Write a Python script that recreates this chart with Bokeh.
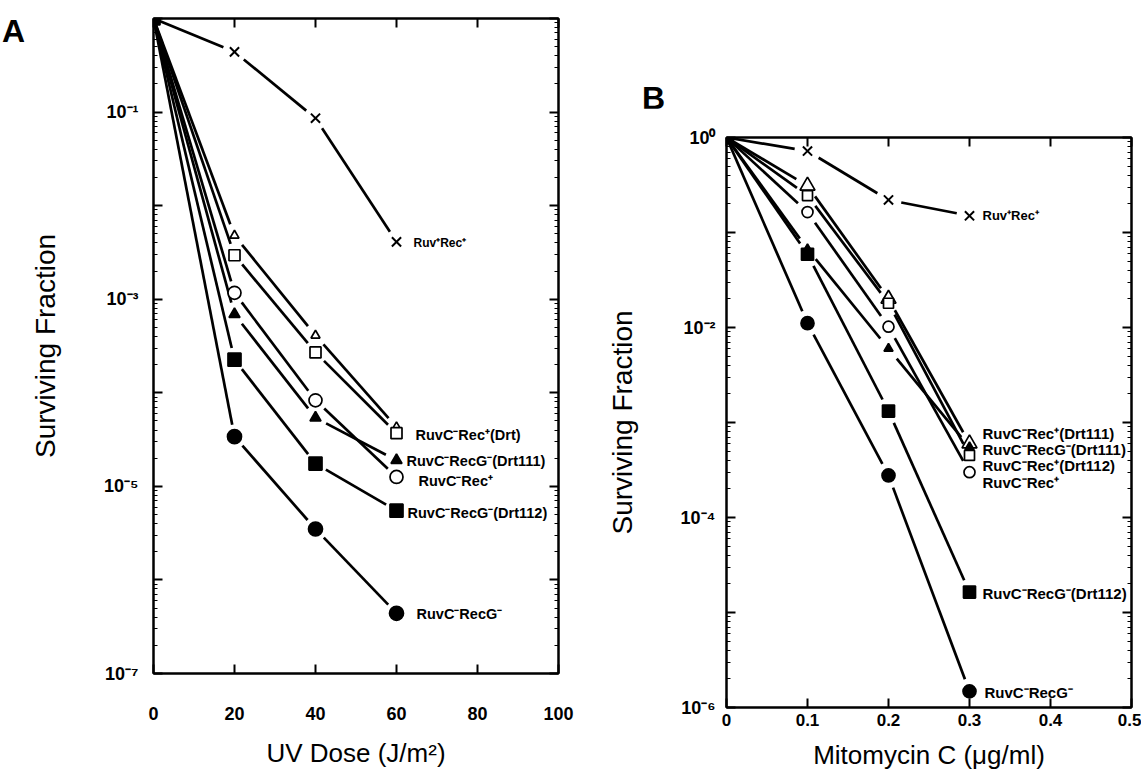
import math
from bokeh.plotting import figure
from bokeh.models import (Range1d, LinearAxis, LogAxis, FixedTicker,
                          CustomJSTickFormatter, ColumnDataSource, Div)
from bokeh.layouts import row, column
from bokeh.embed import file_html
from bokeh.resources import INLINE
from bokeh.core.properties import value

# ---------------- data: panel A (UV) ----------------
uv_dose = [0, 20, 40, 60]
A_ruv_rec = [1, 0.44, 0.086, 4.1e-3]          # x      Ruv+Rec+
A_rec_drt111 = [1, 4.8e-3, 4.1e-4, 4.3e-5]    # open triangle
A_rec_drt112 = [1, 2.95e-3, 2.7e-4, 3.7e-5]   # open square
A_rec = [1, 1.17e-3, 8.3e-5, 1.26e-5]         # open circle
A_recg_drt111 = [1, 6.9e-4, 5.4e-5, 1.9e-5]   # filled triangle
A_recg_drt112 = [1, 2.26e-4, 1.75e-5, 5.5e-6] # filled square
A_recg = [1, 3.4e-5, 3.5e-6, 4.4e-7]          # filled circle

A_labels = ["Ruv⁺Rec⁺", "", "RuvC⁻Rec⁺(Drt)", "RuvC⁻Rec⁺",
            "RuvC⁻RecG⁻(Drt111)", "RuvC⁻RecG⁻(Drt112)", "RuvC⁻RecG⁻"]

# ---------------- data: panel B (Mitomycin C) ----------------
mmc_dose = [0, 0.1, 0.2, 0.3]
B_ruv_rec = [1, 0.72, 0.22, 0.15]
B_rec_drt111 = [1, 0.31, 0.020, 6.0e-4]
B_rec_drt112 = [1, 0.245, 0.018, 4.5e-4]
B_rec = [1, 0.164, 0.0102, 3.0e-4]
B_recg_drt111 = [1, 0.067, 6.0e-3, 5.5e-4]
B_recg_drt112 = [1, 0.059, 1.32e-3, 1.64e-5]
B_recg = [1, 0.0111, 2.77e-4, 1.48e-6]

B_labels = ["Ruv⁺Rec⁺", "RuvC⁻Rec⁺(Drt111)", "RuvC⁻Rec⁺(Drt112)", "RuvC⁻Rec⁺",
            "RuvC⁻RecG⁻(Drt111)", "RuvC⁻RecG⁻(Drt112)", "RuvC⁻RecG⁻"]

# ---------------- ticks ----------------
A_xticks = [0, 20, 40, 60, 80, 100]
A_xlabels = ["0", "20", "40", "60", "80", "100"]
A_yticks = [1e-7, 1e-6, 1e-5, 1e-4, 1e-3, 1e-2, 1e-1, 1e0]
A_ylabels = ["10⁻⁷", "", "10⁻⁵", "", "10⁻³", "", "10⁻¹", ""]

B_xticks = [0, 0.1, 0.2, 0.3, 0.4, 0.5]
B_xlabels = ["0", "0.1", "0.2", "0.3", "0.4", "0.5"]
B_yticks = [1e-6, 1e-5, 1e-4, 1e-3, 1e-2, 1e-1, 1e0]
B_ylabels = ["10⁻⁶", "", "10⁻⁴", "", "10⁻²", "", "10⁰"]

FONT = "Liberation Sans"

# marker styles: (marker, filled)
STYLES = [("x", False), ("triangle", False), ("square", False), ("circle", False),
          ("triangle", True), ("square", True), ("circle", True)]


def formatter(tks, labels, log):
    code = """
    let best = -1, bd = 1e9;
    for (let i = 0; i < tk.length; i++) {
        const d = lg ? Math.abs(Math.log10(tk[i]) - Math.log10(tick))
                     : Math.abs(tk[i] - tick);
        if (d < bd) { bd = d; best = i; }
    }
    return bd < 1e-6 ? lb[best] : "";
    """
    return CustomJSTickFormatter(args=dict(tk=tks, lb=labels, lg=log), code=code)


def blank():
    return CustomJSTickFormatter(code="return '';")


def style_axis(ax, tick_in=9, minor_in=0):
    ax.major_tick_in = tick_in
    ax.major_tick_out = 0
    ax.minor_tick_in = minor_in
    ax.minor_tick_out = 0
    ax.axis_line_width = 2
    ax.major_tick_line_width = 2
    ax.minor_tick_line_width = 1
    ax.axis_line_color = "black"
    ax.major_tick_line_color = "black"
    ax.minor_tick_line_color = "black"
    ax.major_label_text_color = "black"
    ax.axis_label_text_color = "black"


def gapped(xs, ys, xr, yr, fw, fh, gap):
    sx = fw / (xr[1] - xr[0])
    sy = fh / (math.log10(yr[1]) - math.log10(yr[0]))
    x0s, y0s, x1s, y1s = [], [], [], []
    for i in range(len(xs) - 1):
        ax_, ay_ = xs[i] * sx, math.log10(ys[i]) * sy
        bx_, by_ = xs[i + 1] * sx, math.log10(ys[i + 1]) * sy
        d = math.hypot(bx_ - ax_, by_ - ay_)
        ux, uy = (bx_ - ax_) / d, (by_ - ay_) / d
        g0 = 0 if i == 0 else gap
        sxp, syp = ax_ + ux * g0, ay_ + uy * g0
        exp_, eyp = bx_ - ux * gap, by_ - uy * gap
        x0s.append(sxp / sx); y0s.append(10 ** (syp / sy))
        x1s.append(exp_ / sx); y1s.append(10 ** (eyp / sy))
    return x0s, y0s, x1s, y1s


def panel(xr, yr, fw, fh, borders, xticks, xlabels, yticks, ylabels,
          xs, series, sizes, labels, lab_off, lab_sizes, xtitle,
          xstand, xtitle_stand, ystand, ytitle_stand, xfs, yfs, gap):
    left, right, top, bottom = borders
    p = figure(x_range=Range1d(*xr), y_range=Range1d(*yr), y_axis_type="log",
               frame_width=fw, frame_height=fh,
               min_border_left=left, min_border_right=right,
               min_border_top=top, min_border_bottom=bottom,
               output_backend="svg", toolbar_location=None,
               background_fill_color="white", border_fill_color="white")
    p.grid.visible = False
    p.outline_line_color = "black"
    p.outline_line_width = 2

    yminor = [k * t for t in yticks[:-1] for k in range(2, 10)]

    xa = p.xaxis[0]
    xa.ticker = FixedTicker(ticks=xticks, minor_ticks=[])
    xa.formatter = formatter(xticks, xlabels, False)
    style_axis(xa)
    xa.major_label_standoff = xstand
    xa.major_label_text_font = FONT
    xa.major_label_text_font_style = "bold"
    xa.major_label_text_font_size = xfs
    xa.axis_label = xtitle
    xa.axis_label_text_font = FONT
    xa.axis_label_text_font_style = "normal"
    xa.axis_label_text_font_size = "26px"
    xa.axis_label_standoff = xtitle_stand

    ya = p.yaxis[0]
    ya.ticker = FixedTicker(ticks=yticks, minor_ticks=yminor)
    ya.formatter = formatter(yticks, ylabels, True)
    style_axis(ya, 9, 4)
    ya.major_label_standoff = ystand
    ya.major_label_text_font = FONT
    ya.major_label_text_font_style = "bold"
    ya.major_label_text_font_size = yfs
    ya.axis_label = "Surviving Fraction"
    ya.axis_label_text_font = FONT
    ya.axis_label_text_font_style = "normal"
    ya.axis_label_text_font_size = "28px"
    ya.axis_label_standoff = ytitle_stand

    top_ax = LinearAxis(ticker=FixedTicker(ticks=xticks, minor_ticks=[]), formatter=blank())
    style_axis(top_ax)
    top_ax.major_label_text_font_size = "0px"
    top_ax.major_label_standoff = 0
    p.add_layout(top_ax, "above")

    right_ax = LogAxis(ticker=FixedTicker(ticks=yticks, minor_ticks=yminor), formatter=blank())
    style_axis(right_ax, 9, 4)
    right_ax.major_label_text_font_size = "0px"
    right_ax.major_label_standoff = 0
    p.add_layout(right_ax, "right")

    # lines with gaps at markers
    for ys in series:
        x0, y0, x1, y1 = gapped(xs, ys, xr, yr, fw, fh, gap)
        p.segment(x0=x0, y0=y0, x1=x1, y1=y1, line_color="black", line_width=2.7)

    # markers (draw in order so filled square ends on top at origin)
    order = [0, 1, 2, 3, 6, 4, 5]
    for i in order:
        ys = series[i]
        mk, filled = STYLES[i]
        if mk == "x":
            p.scatter(xs[1:], ys[1:], marker="x", size=sizes[i], line_color="black",
                      line_width=2)
        else:
            p.scatter(xs, ys, marker=mk, size=sizes[i], line_color="black",
                      line_width=1.7, fill_color="black" if filled else "white")

    # labels near last point
    lx, ly, lt, lxo, lyo, lfs = [], [], [], [], [], []
    for i, txt in enumerate(labels):
        if not txt:
            continue
        lx.append(xs[-1]); ly.append(series[i][-1]); lt.append(txt)
        lxo.append(lab_off[i][0]); lyo.append(lab_off[i][1]); lfs.append(lab_sizes[i])
    src = ColumnDataSource(dict(x=lx, y=ly, text=lt, xo=lxo, yo=lyo, fs=lfs))
    p.text(x="x", y="y", text="text", x_offset="xo", y_offset="yo", source=src,
           text_font=value(FONT), text_font_style="bold", text_font_size="fs",
           text_baseline="middle", text_align="left", text_color="black")
    return p


seriesA = [A_ruv_rec, A_rec_drt111, A_rec_drt112, A_rec, A_recg_drt111, A_recg_drt112, A_recg]
seriesB = [B_ruv_rec, B_rec_drt111, B_rec_drt112, B_rec, B_recg_drt111, B_recg_drt112, B_recg]

pA = panel((0, 100), (1e-7, 1), 405, 655, (129, 23, 18, 84),
           A_xticks, A_xlabels, A_yticks, A_ylabels, uv_dose, seriesA,
           [13, 9, 11, 13, 11, 13, 14], A_labels,
           [(17, 1), (0, 0), (19, 2), (22, 4), (10, 1), (11, 2), (20, 1)],
           ["12px", "14.5px", "14.5px", "14.5px", "14.5px", "14.5px", "14.5px"],
           "UV Dose (J/m²)", 33, 15, 15, 40, "18px", "18px", 12)

pB = panel((0, 0.5), (1e-6, 1), 405, 570, (145, 10, 29, 60),
           B_xticks, B_xlabels, B_yticks, B_ylabels, mmc_dose, seriesB,
           [13, 15, 10, 11, 9, 12, 13], B_labels,
           [(13, 0), (13, -10), (13, 10), (13, 10), (13, 2), (13, 1), (15, 1)],
           ["13px", "15px", "15px", "15px", "15px", "15px", "15px"],
           "Mitomycin C (μg/ml)", 6, 11, 11, 40, "17px", "18px", 13)

letter_css = "font-family:'Liberation Sans';font-weight:bold;font-size:32px;line-height:32px;"
divA = Div(text=f'<div style="{letter_css}padding-left:2px;padding-top:15px;">A</div>',
           width=24, height=60, margin=(0, 0, 0, 0))
divB = Div(text=f'<div style="{letter_css}padding-left:61px;padding-top:82px;">B</div>',
           width=560, height=108, margin=(0, 0, 0, 0))

layout = row(divA, pA, column(divB, pB, spacing=0), spacing=0)
open("out.html", "w").write(file_html(layout, INLINE))
